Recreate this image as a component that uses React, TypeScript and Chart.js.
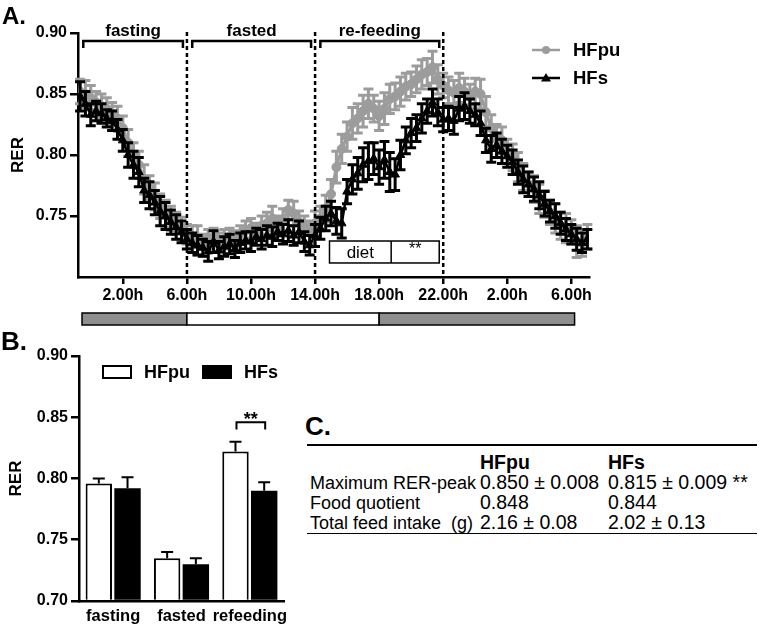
import React, { useEffect, useRef } from 'react';
import { Chart, registerables } from 'chart.js';
Chart.register(...registerables);

const FONT = '"Liberation Sans", Arial, Helvetica, sans-serif';
const GRAY = '#9c9c9c';

// ---------- Panel A data ----------
const START_HOUR = -0.67;
const STEP_HOURS = 1 / 3;
const HOUR_TICKS = [2, 6, 10, 14, 18, 22, 26, 30];
const Y_TICKS_A = [0.75, 0.8, 0.85, 0.9];
const PHASE_LINES = [6, 14, 22];
const PHASES = [
  { label: 'fasting', from: -0.8, to: 6 },
  { label: 'fasted', from: 6, to: 14 },
  { label: 're-feeding', from: 14, to: 22 },
];
const LIGHT_CYCLE = [
  { from: -0.55, to: 6, dark: true },
  { from: 6, to: 18, dark: false },
  { from: 18, to: 30.2, dark: true },
];
const DIET_BOX = { from: 14.9, mid: 18.75, to: 21.75, low: 0.7115, high: 0.7295 };

const HFPU_RER = [
  0.852, 0.850, 0.847, 0.843, 0.840, 0.838, 0.834, 0.830, 0.822, 0.810, 0.800, 0.792, 0.780, 0.773, 0.766, 0.758, 0.752, 0.748, 0.744, 0.740, 0.735, 0.733, 0.730,
  0.726, 0.731, 0.733, 0.728, 0.731, 0.733, 0.730, 0.735, 0.738, 0.740, 0.737, 0.742, 0.744, 0.748, 0.742, 0.747, 0.755, 0.752, 0.745, 0.742, 0.737, 0.744,
  0.748, 0.756, 0.768, 0.790, 0.805, 0.815, 0.826, 0.830, 0.836, 0.842, 0.838, 0.832, 0.838, 0.846, 0.848, 0.852, 0.856, 0.858, 0.862, 0.866, 0.868, 0.872, 0.862, 0.857,
  0.853, 0.851, 0.855, 0.852, 0.848, 0.852, 0.850, 0.835, 0.822, 0.815, 0.812, 0.803, 0.798, 0.790, 0.782, 0.776, 0.772, 0.764, 0.760, 0.753, 0.748, 0.742, 0.740, 0.737, 0.729, 0.728, 0.733,
];
const HFPU_SEM = [
  0.010, 0.011, 0.010, 0.009, 0.010, 0.009, 0.009, 0.010, 0.010, 0.011, 0.010, 0.011, 0.012, 0.010, 0.011, 0.010, 0.011, 0.010, 0.009, 0.009, 0.008, 0.009, 0.012,
  0.009, 0.008, 0.007, 0.008, 0.008, 0.007, 0.008, 0.007, 0.008, 0.008, 0.007, 0.008, 0.009, 0.010, 0.008, 0.009, 0.008, 0.010, 0.009, 0.008, 0.009, 0.010,
  0.010, 0.011, 0.012, 0.013, 0.012, 0.012, 0.013, 0.012, 0.013, 0.012, 0.011, 0.012, 0.013, 0.012, 0.011, 0.012, 0.011, 0.010, 0.011, 0.012, 0.011, 0.013, 0.012, 0.010,
  0.011, 0.010, 0.012, 0.011, 0.010, 0.011, 0.012, 0.013, 0.011, 0.010, 0.011, 0.010, 0.011, 0.012, 0.011, 0.010, 0.011, 0.012, 0.011, 0.010, 0.012, 0.011, 0.012, 0.010, 0.013, 0.011, 0.010,
];
const HFS_RER = [
  0.848, 0.842, 0.833, 0.836, 0.834, 0.830, 0.828, 0.821, 0.812, 0.800, 0.792, 0.786, 0.771, 0.767, 0.761, 0.754, 0.750, 0.745, 0.741, 0.737, 0.731, 0.728, 0.726,
  0.724, 0.721, 0.729, 0.722, 0.725, 0.727, 0.723, 0.728, 0.730, 0.729, 0.733, 0.731, 0.734, 0.733, 0.737, 0.735, 0.738, 0.734, 0.737, 0.729, 0.726, 0.734,
  0.740, 0.748, 0.752, 0.746, 0.744, 0.770, 0.780, 0.785, 0.792, 0.795, 0.797, 0.790, 0.796, 0.786, 0.784, 0.800, 0.812, 0.818, 0.822, 0.830, 0.836, 0.843, 0.835, 0.829,
  0.830, 0.828, 0.838, 0.840, 0.836, 0.833, 0.826, 0.812, 0.805, 0.808, 0.803, 0.799, 0.794, 0.786, 0.780, 0.776, 0.772, 0.767, 0.760, 0.754, 0.750, 0.744, 0.739, 0.735, 0.731, 0.728, 0.731,
];
const HFS_SEM = [
  0.012, 0.010, 0.009, 0.008, 0.008, 0.007, 0.008, 0.008, 0.009, 0.010, 0.011, 0.012, 0.010, 0.011, 0.010, 0.012, 0.011, 0.010, 0.010, 0.009, 0.008, 0.008, 0.008,
  0.007, 0.008, 0.009, 0.007, 0.008, 0.008, 0.007, 0.008, 0.007, 0.008, 0.007, 0.008, 0.008, 0.008, 0.007, 0.008, 0.009, 0.008, 0.009, 0.008, 0.008, 0.009,
  0.009, 0.010, 0.010, 0.011, 0.012, 0.010, 0.012, 0.013, 0.014, 0.015, 0.013, 0.014, 0.015, 0.016, 0.013, 0.012, 0.011, 0.012, 0.011, 0.012, 0.010, 0.011, 0.011, 0.010,
  0.010, 0.011, 0.010, 0.011, 0.010, 0.009, 0.010, 0.010, 0.011, 0.010, 0.010, 0.009, 0.010, 0.010, 0.011, 0.010, 0.010, 0.011, 0.010, 0.009, 0.010, 0.009, 0.009, 0.008, 0.009, 0.008, 0.008,
];

// ---------- Panel B data ----------
const BAR_CATEGORIES = ['fasting', 'fasted', 'refeeding'];
const BAR_HFPU = [0.796, 0.735, 0.822];
const BAR_HFPU_SEM = [0.004, 0.005, 0.008];
const BAR_HFS = [0.792, 0.730, 0.790];
const BAR_HFS_SEM = [0.009, 0.005, 0.007];
const Y_TICKS_B = [0.7, 0.75, 0.8, 0.85, 0.9];
const SIG_BRACKET = { category: 2, low: 0.840, high: 0.846, text: '**' };

// ---------- Panel C data ----------
const TABLE_HEAD = ['', 'HFpu', 'HFs'];
const TABLE_ROWS = [
  ['Maximum RER-peak', '0.850 ± 0.008', '0.815 ± 0.009 **'],
  ['Food quotient', '0.848', '0.844'],
  ['Total feed intake  (g)', '2.16 ± 0.08', '2.02 ± 0.13'],
];

const toPoints = (vals: number[]) => vals.map((y, i) => ({ x: START_HOUR + i * STEP_HOURS, y }));
const hourLabel = (v: number) => `${(((v % 24) + 24) % 24).toFixed(2)}h`;

const font = (size: number, bold = true) => ({ family: FONT, size, weight: bold ? 'bold' : 'normal' } as any);

const LINE_ERRORS: Record<number, { sem: number[]; color: string; width: number; cap: number }> = {
  0: { sem: HFS_SEM, color: '#000', width: 3, cap: 5 },
  1: { sem: HFPU_SEM, color: GRAY, width: 3, cap: 5 },
};

const panelAPlugin = {
  id: 'panelA',
  beforeDatasetDraw(chart: any, args: any) {
    const e = LINE_ERRORS[args.index];
    if (!e) return;
    const ctx = chart.ctx;
    const y = chart.scales.y;
    const ds = chart.data.datasets[args.index];
    ctx.save();
    ctx.strokeStyle = e.color;
    ctx.lineWidth = e.width;
    args.meta.data.forEach((pt: any, i: number) => {
      const v = ds.data[i].y;
      const yt = y.getPixelForValue(v + e.sem[i]);
      const yb = y.getPixelForValue(v - e.sem[i]);
      ctx.beginPath();
      ctx.moveTo(pt.x, yt); ctx.lineTo(pt.x, yb);
      ctx.moveTo(pt.x - e.cap, yt); ctx.lineTo(pt.x + e.cap, yt);
      ctx.moveTo(pt.x - e.cap, yb); ctx.lineTo(pt.x + e.cap, yb);
      ctx.stroke();
    });
    ctx.restore();
  },
  afterDraw(chart: any) {
    const ctx = chart.ctx;
    const x = chart.scales.x;
    const y = chart.scales.y;
    const { top, bottom, right } = chart.chartArea;
    ctx.save();
    // dashed phase lines
    ctx.strokeStyle = '#000';
    ctx.lineWidth = 2.5;
    ctx.setLineDash([4, 3]);
    PHASE_LINES.forEach((h) => {
      const px = x.getPixelForValue(h);
      ctx.beginPath(); ctx.moveTo(px, top - 1); ctx.lineTo(px, bottom); ctx.stroke();
    });
    ctx.setLineDash([]);
    // phase brackets
    ctx.lineWidth = 2.5;
    ctx.font = `bold 17px ${FONT}`;
    ctx.fillStyle = '#000';
    ctx.textAlign = 'center';
    ctx.textBaseline = 'alphabetic';
    PHASES.forEach((p) => {
      const x0 = x.getPixelForValue(p.from + 0.33);
      const x1 = x.getPixelForValue(p.to - 0.25);
      const by = top + 8;
      ctx.beginPath();
      ctx.moveTo(x0, by + 7); ctx.lineTo(x0, by); ctx.lineTo(x1, by); ctx.lineTo(x1, by + 7);
      ctx.stroke();
      ctx.fillText(p.label, (x0 + x1) / 2, top + 3);
    });
    // diet box
    const dx0 = x.getPixelForValue(DIET_BOX.from);
    const dxm = x.getPixelForValue(DIET_BOX.mid);
    const dx1 = x.getPixelForValue(DIET_BOX.to);
    const dyt = y.getPixelForValue(DIET_BOX.high);
    const dyb = y.getPixelForValue(DIET_BOX.low);
    ctx.fillStyle = '#fff';
    ctx.fillRect(dx0, dyt, dx1 - dx0, dyb - dyt);
    ctx.strokeStyle = '#000';
    ctx.lineWidth = 1.5;
    ctx.strokeRect(dx0, dyt, dx1 - dx0, dyb - dyt);
    ctx.beginPath(); ctx.moveTo(dxm, dyt); ctx.lineTo(dxm, dyb); ctx.stroke();
    ctx.fillStyle = '#000';
    ctx.font = `17px ${FONT}`;
    ctx.textBaseline = 'middle';
    ctx.fillText('diet', (dx0 + dxm) / 2, (dyt + dyb) / 2 + 1);
    ctx.font = `16px ${FONT}`;
    ctx.fillText('**', (dxm + dx1) / 2, dyt + 9);
    // light/dark cycle bar
    const barTop = bottom + 36;
    const barH = 12;
    LIGHT_CYCLE.forEach((c) => {
      const a = x.getPixelForValue(c.from);
      const b = x.getPixelForValue(c.to);
      ctx.fillStyle = c.dark ? '#8e8e8e' : '#fff';
      ctx.fillRect(a, barTop, b - a, barH);
      ctx.strokeStyle = '#000';
      ctx.lineWidth = 1.5;
      ctx.strokeRect(a, barTop, b - a, barH);
    });
    // legend
    const lx = right - 57;
    const rows = [
      { label: 'HFpu', color: GRAY, style: 'circle', y: 50 },
      { label: 'HFs', color: '#000', style: 'triangle', y: 78 },
    ];
    rows.forEach((r) => {
      ctx.strokeStyle = r.color;
      ctx.fillStyle = r.color;
      ctx.lineWidth = 2.5;
      ctx.beginPath(); ctx.moveTo(lx, r.y); ctx.lineTo(lx + 28, r.y); ctx.stroke();
      const cx = lx + 14;
      ctx.beginPath();
      if (r.style === 'circle') {
        ctx.arc(cx, r.y, 4, 0, Math.PI * 2);
      } else {
        ctx.moveTo(cx, r.y - 5); ctx.lineTo(cx + 5, r.y + 3.5); ctx.lineTo(cx - 5, r.y + 3.5); ctx.closePath();
      }
      ctx.fill();
      ctx.fillStyle = '#000';
      ctx.font = `bold 18.5px ${FONT}`;
      ctx.textAlign = 'left';
      ctx.textBaseline = 'middle';
      ctx.fillText(r.label, lx + 41, r.y + 1);
    });
    ctx.restore();
  },
};

const panelBPlugin = {
  id: 'panelB',
  afterDatasetsDraw(chart: any) {
    const ctx = chart.ctx;
    const y = chart.scales.y;
    const sets = [
      { vals: BAR_HFPU, sem: BAR_HFPU_SEM },
      { vals: BAR_HFS, sem: BAR_HFS_SEM },
    ];
    ctx.save();
    ctx.strokeStyle = '#000';
    ctx.lineWidth = 2;
    sets.forEach((s, di) => {
      chart.getDatasetMeta(di).data.forEach((bar: any, i: number) => {
        const yt = y.getPixelForValue(s.vals[i] + s.sem[i]);
        const yb = y.getPixelForValue(s.vals[i]);
        ctx.beginPath();
        ctx.moveTo(bar.x, yb); ctx.lineTo(bar.x, yt);
        ctx.moveTo(bar.x - 6, yt); ctx.lineTo(bar.x + 6, yt);
        ctx.stroke();
      });
    });
    // significance bracket
    const b0 = chart.getDatasetMeta(0).data[SIG_BRACKET.category];
    const b1 = chart.getDatasetMeta(1).data[SIG_BRACKET.category];
    const hy = y.getPixelForValue(SIG_BRACKET.high);
    const ly = y.getPixelForValue(SIG_BRACKET.low);
    ctx.beginPath();
    ctx.moveTo(b0.x + 1, ly); ctx.lineTo(b0.x + 1, hy); ctx.lineTo(b1.x + 1, hy); ctx.lineTo(b1.x + 1, ly);
    ctx.stroke();
    ctx.fillStyle = '#000';
    ctx.font = `bold 18px ${FONT}`;
    ctx.textAlign = 'center';
    ctx.textBaseline = 'alphabetic';
    ctx.fillText(SIG_BRACKET.text, (b0.x + b1.x) / 2 + 1, hy + 3);
    // legend
    const items = [
      { label: 'HFpu', fill: '#fff', x: 103 },
      { label: 'HFs', fill: '#000', x: 203 },
    ];
    items.forEach((it) => {
      ctx.fillStyle = it.fill;
      ctx.fillRect(it.x, 36, 28, 12);
      ctx.lineWidth = 2;
      ctx.strokeRect(it.x, 36, 28, 12);
      ctx.fillStyle = '#000';
      ctx.font = `bold 18px ${FONT}`;
      ctx.textAlign = 'left';
      ctx.textBaseline = 'middle';
      ctx.fillText(it.label, it.x + 41, 43);
    });
    ctx.restore();
  },
};

export default function App() {
  const refA = useRef<HTMLCanvasElement>(null);
  const refB = useRef<HTMLCanvasElement>(null);

  useEffect(() => {
    const chartA = new Chart(refA.current as HTMLCanvasElement, {
      type: 'line',
      data: {
        datasets: [
          {
            label: 'HFs',
            data: toPoints(HFS_RER),
            borderColor: '#000',
            backgroundColor: '#000',
            borderWidth: 2.5,
            pointStyle: 'triangle',
            pointRadius: 5,
            pointBorderWidth: 1,
            order: 0,
          },
          {
            label: 'HFpu',
            data: toPoints(HFPU_RER),
            borderColor: GRAY,
            backgroundColor: GRAY,
            borderWidth: 3,
            pointStyle: 'circle',
            pointRadius: 4.5,
            pointBorderWidth: 1,
            order: 1,
          },
        ],
      } as any,
      options: {
        animation: false,
        responsive: false,
        events: [],
        layout: { padding: { top: 33, right: 171, left: 0, bottom: 0 } },
        plugins: { legend: { display: false }, tooltip: { enabled: false } },
        scales: {
          x: {
            type: 'linear',
            min: -0.8,
            max: 31.1,
            afterBuildTicks: (s: any) => { s.ticks = HOUR_TICKS.map((v) => ({ value: v })); },
            afterFit: (s: any) => { s.height = 53; },
            ticks: { callback: (v: any) => hourLabel(Number(v)), font: font(16), color: '#000', padding: 2, maxRotation: 0, autoSkip: false },
            grid: { drawOnChartArea: false, drawTicks: true, tickLength: 7, color: '#000', lineWidth: 2.5 },
            border: { color: '#000', width: 2.5 },
          },
          y: {
            min: 0.7,
            max: 0.9,
            afterBuildTicks: (s: any) => { s.ticks = Y_TICKS_A.map((v) => ({ value: v })); },
            afterFit: (s: any) => { s.width = 78; },
            ticks: { callback: (v: any) => Number(v).toFixed(2), font: font(16), color: '#000', padding: 3 },
            grid: { drawOnChartArea: false, drawTicks: true, tickLength: 8, color: '#000', lineWidth: 2.5 },
            border: { color: '#000', width: 2.5 },
            title: { display: true, text: 'RER', font: font(17), color: '#000', padding: { top: 8, bottom: 0 } },
          },
        },
      } as any,
      plugins: [panelAPlugin as any],
    });

    const chartB = new Chart(refB.current as HTMLCanvasElement, {
      type: 'bar',
      data: {
        labels: BAR_CATEGORIES,
        datasets: [
          { label: 'HFpu', data: BAR_HFPU, backgroundColor: '#fff', borderColor: '#000', borderWidth: 2, base: 0.7, borderSkipped: 'start' },
          { label: 'HFs', data: BAR_HFS, backgroundColor: '#000', borderColor: '#000', borderWidth: 0, base: 0.7 },
        ],
      } as any,
      options: {
        animation: false,
        responsive: false,
        events: [],
        categoryPercentage: 0.84,
        barPercentage: 0.92,
        layout: { padding: { top: 26, right: 16, left: 0, bottom: 0 } },
        plugins: { legend: { display: false }, tooltip: { enabled: false } },
        scales: {
          x: {
            afterFit: (s: any) => { s.height = 25; },
            ticks: { font: font(16.5), color: '#000', padding: 6, maxRotation: 0, minRotation: 0, autoSkip: false },
            grid: { display: false, drawTicks: false },
            border: { color: '#000', width: 2.5 },
          },
          y: {
            min: 0.7,
            max: 0.9,
            afterBuildTicks: (s: any) => { s.ticks = Y_TICKS_B.map((v) => ({ value: v })); },
            afterFit: (s: any) => { s.width = 79; },
            ticks: { callback: (v: any) => Number(v).toFixed(2), font: font(16), color: '#000', padding: 3 },
            grid: { drawOnChartArea: false, drawTicks: true, tickLength: 8, color: '#000', lineWidth: 2.5 },
            border: { color: '#000', width: 2.5 },
            title: { display: true, text: 'RER', font: font(17), color: '#000', padding: { top: 6, bottom: 0 } },
          },
        },
      } as any,
      plugins: [panelBPlugin as any],
    });

    return () => {
      chartA.destroy();
      chartB.destroy();
    };
  }, []);

  const label = (text: string, left: number, top: number, size: number) => (
    <div style={{ position: 'absolute', left, top, fontSize: size, fontWeight: 'bold', lineHeight: 'normal' }}>{text}</div>
  );

  return (
    <div style={{ position: 'absolute', left: 0, top: 0, width: 760, height: 626, background: '#fff', fontFamily: FONT, color: '#000' }}>
      <canvas ref={refA} width={760} height={330} style={{ position: 'absolute', left: 0, top: 0, width: 760, height: 330 }} />
      <canvas ref={refB} width={300} height={296} style={{ position: 'absolute', left: 0, top: 330, width: 300, height: 296 }} />
      {label('A.', 2, 2, 24)}
      {label('B.', 1, 326, 26)}
      {label('C.', 305, 411, 26)}
      <div style={{ position: 'absolute', left: 307, top: 444, width: 450, borderTop: '2.5px solid #000', borderBottom: '1px solid #000', paddingTop: 6, paddingBottom: 1 }}>
        {[TABLE_HEAD, ...TABLE_ROWS].map((row, ri) => (
          <div key={ri} style={{ display: 'grid', gridTemplateColumns: '170px 128px 1fr', alignItems: 'baseline', paddingLeft: 3, height: 20, lineHeight: '20px', fontWeight: ri === 0 ? 'bold' : 'normal', whiteSpace: 'pre' }}>
            {row.map((c, ci) => (<span key={ci} style={{ fontSize: ci === 0 ? 18 : 19.5 }}>{c}</span>))}
          </div>
        ))}
      </div>
    </div>
  );
}
